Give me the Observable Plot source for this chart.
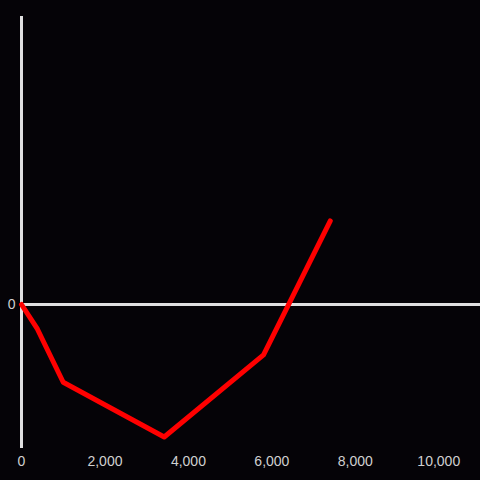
<!DOCTYPE html>
<html>
<head>
<meta charset="utf-8">
<script src="https://cdn.jsdelivr.net/npm/d3@7"></script>
<script src="https://cdn.jsdelivr.net/npm/@observablehq/plot@0.6"></script>
<style>
  html, body { margin: 0; padding: 0; background: #050307; }
  #chart { width: 480px; height: 480px; }
</style>
</head>
<body>
<div id="chart"></div>
<script>
const xs = [0, 380, 1000, 3420, 5800, 7400];
const ys = [0, -0.17, -0.54, -0.92, -0.35, 0.58];
const xTicks = [0, 2000, 4000, 6000, 8000, 10000];
const yTicks = [0];

const data = xs.map((x, i) => ({x, y: ys[i]}));

const chart = Plot.plot({
  width: 480,
  height: 480,
  marginLeft: 21,
  marginRight: 0,
  marginTop: 16,
  marginBottom: 32,
  style: {background: "#050307", color: "#d0d0d0", fontSize: "14px", fontFamily: "'Liberation Sans', Arial, sans-serif"},
  x: {domain: [0, 11000]},
  y: {domain: [-1, 2]},
  marks: [
    Plot.axisX({ticks: xTicks, tickSize: 0, tickPadding: 8, tickFormat: d3.format(","), label: null, fill: "#d0d0d0"}),
    Plot.axisY({ticks: yTicks, tickSize: 0, tickPadding: 6, tickFormat: d3.format("d"), label: null, fill: "#d0d0d0"}),
    Plot.ruleX([0], {stroke: "#e0e0e0", strokeWidth: 3}),
    Plot.ruleY([0], {stroke: "#e0e0e0", strokeWidth: 3}),
    Plot.line(data, {x: "x", y: "y", stroke: "#ff0000", strokeWidth: 5})
  ]
});
document.getElementById("chart").appendChild(chart);
</script>
</body>
</html>
